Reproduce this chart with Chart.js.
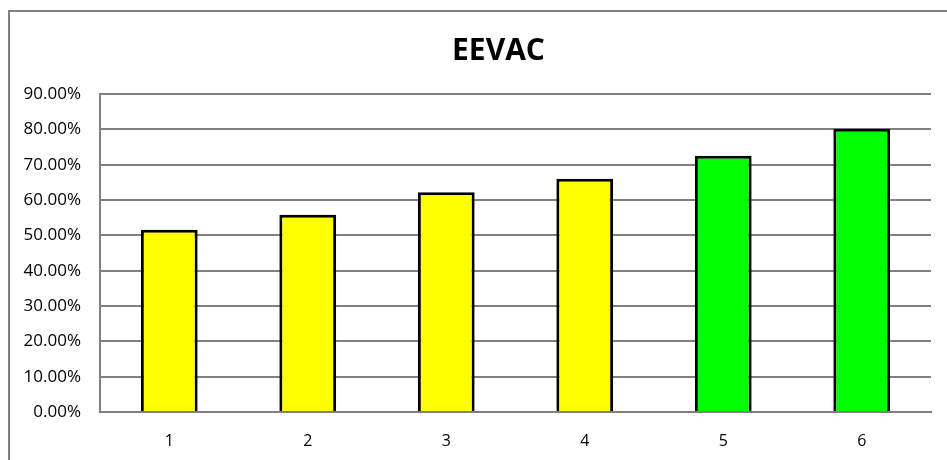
<!DOCTYPE html>
<html>
<head>
<meta charset="utf-8">
<script src="https://cdn.jsdelivr.net/npm/chart.js@4/dist/chart.umd.min.js"></script>
<style>
    html, body { margin: 0; padding: 0; background: #fff; }
    #wrap { width: 947px; height: 460px; position: relative; }
</style>
</head>
<body>
<div id="wrap"><canvas id="grafica"></canvas></div>
<script>
const categorias = ['1', '2', '3', '4', '5', '6'];
const valores = [51.6, 55.8, 62.2, 66.0, 72.5, 80.2];
const colores = ['#FFFF00', '#FFFF00', '#FFFF00', '#FFFF00', '#00FF00', '#00FF00'];
const titulo = 'EEVAC';

// marco gris del grafico (sale por la derecha y por abajo)
const marco = {
    id: 'marco',
    afterLayout(chart) {
        // el titulo se centra en todo el marco, no en la ventana
        const t = chart.titleBlock;
        if (t) {
            t.left = 9;
            t.right = 988;
            t.width = 979;
        }
    },
    beforeDraw(chart) {
        const ctx = chart.ctx;
        ctx.save();
        ctx.strokeStyle = '#808080';
        ctx.lineWidth = 2;
        ctx.beginPath();
        ctx.moveTo(9, 470);
        ctx.lineTo(9, 11);
        ctx.lineTo(960, 11);
        ctx.stroke();
        ctx.restore();
    }
};

const ctx = document.getElementById('grafica').getContext('2d');
new Chart(ctx, {
    type: 'bar',
    data: {
        labels: categorias,
        datasets: [{
            data: valores,
            backgroundColor: colores,
            borderColor: '#000000',
            borderWidth: 3,
            categoryPercentage: 1,
            barPercentage: 0.41
        }]
    },
    options: {
        responsive: true,
        maintainAspectRatio: false,
        animation: false,
        layout: { padding: { top: 0, right: 16, bottom: 0, left: 0 } },
        plugins: {
            legend: { display: false },
            tooltip: { enabled: false },
            title: {
                display: true,
                text: titulo,
                color: '#000',
                font: { family: 'Open Sans', size: 30, weight: 'bold', lineHeight: 1.2 },
                padding: { top: 33, bottom: 25 }
            }
        },
        scales: {
            x: {
                grid: { display: false, drawTicks: false },
                border: { display: true, color: '#808080', width: 2 },
                ticks: { color: '#000', font: { family: 'Open Sans', size: 16 }, padding: 20 },
                afterFit: s => { s.height = 48; }
            },
            y: {
                min: 0,
                max: 90,
                ticks: {
                    stepSize: 10,
                    color: '#000',
                    font: { family: 'Open Sans', size: 17 },
                    padding: 19,
                    callback: v => v.toFixed(2) + '%'
                },
                grid: { color: '#808080', lineWidth: 2, drawTicks: false },
                border: { display: true, color: '#808080', width: 2 },
                afterFit: s => { s.width = 100; }
            }
        }
    },
    plugins: [marco]
});
</script>
</body>
</html>
